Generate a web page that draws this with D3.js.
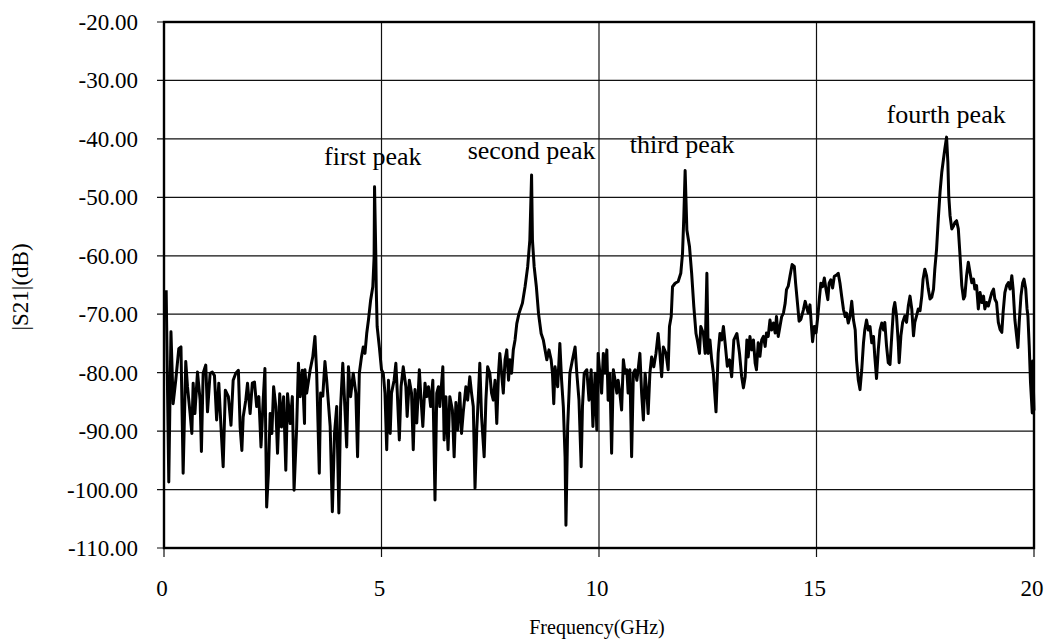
<!DOCTYPE html>
<html>
<head>
<meta charset="utf-8">
<script src="https://cdnjs.cloudflare.com/ajax/libs/d3/7.8.5/d3.min.js"></script>
<style>
	body { margin: 0; background: #fff; }
	text { font-family: "Liberation Serif", "Times New Roman", serif; fill: #000; }
</style>
</head>
<body>
<div id="graph"></div>
<script>
var xTicks = [0, 5, 10, 15, 20],
	yTicks = [-20, -30, -40, -50, -60, -70, -80, -90, -100, -110],
	xTitle = "Frequency(GHz)",
	yTitle = "|S21|(dB)";

var peakLabels = ["first peak", "second peak", "third peak", "fourth peak"],
	peakFreq = [4.80, 8.45, 11.91, 17.98],
	peakLabelDb = [-44.5, -43.4, -42.4, -37.3];

// [frequency GHz, |S21| dB]
var trace = [
	[0.05,-65.9],[0.11,-98.7],[0.16,-73],[0.21,-85.3],[0.27,-81.3],[0.34,-75.9],[0.39,-75.6],[0.44,-97.2],
	[0.50,-78.1],[0.54,-82.4],[0.60,-87],[0.64,-90.4],[0.67,-81.8],[0.71,-87],[0.77,-79.9],[0.83,-84.7],
	[0.86,-93.5],[0.90,-80.1],[0.96,-78.7],[1.00,-86.7],[1.06,-80.1],[1.11,-79.9],[1.16,-80.5],[1.21,-88.1],
	[1.26,-81.8],[1.31,-89.3],[1.36,-96.1],[1.41,-83],[1.48,-84.1],[1.54,-89],[1.59,-81.3],[1.65,-80.1],
	[1.71,-79.6],[1.75,-89.3],[1.79,-93.3],[1.82,-87.6],[1.88,-84.7],[1.92,-81.8],[1.98,-87],[2.03,-81.8],
	[2.08,-81.6],[2.13,-85.8],[2.18,-84.1],[2.23,-92.7],[2.28,-84.7],[2.32,-79.3],[2.36,-103],[2.40,-97.2],
	[2.44,-87],[2.48,-90.4],[2.52,-82.4],[2.57,-85.8],[2.61,-93.8],[2.66,-83.6],[2.70,-89.3],[2.75,-84.1],
	[2.80,-96.7],[2.84,-83.6],[2.90,-88.7],[2.95,-84.1],[2.99,-100.1],[3.05,-89.3],[3.09,-78.4],[3.13,-84.1],
	[3.18,-79.6],[3.23,-88.7],[3.24,-79.5],[3.28,-83.5],[3.36,-79.5],[3.42,-77.3],[3.47,-73.8],[3.51,-80.1],
	[3.55,-91.5],[3.57,-97.2],[3.60,-83.5],[3.65,-84],[3.70,-78.1],[3.74,-81.3],[3.82,-89.2],[3.87,-103.8],
	[3.92,-90.4],[3.97,-85.8],[4.02,-104],[4.06,-85.8],[4.11,-78.4],[4.15,-84.7],[4.20,-92.7],[4.24,-79],
	[4.29,-84.1],[4.35,-80.1],[4.41,-83.5],[4.45,-94.4],[4.49,-80.1],[4.54,-77.3],[4.58,-75.6],[4.62,-76.7],
	[4.66,-73.3],[4.70,-71],[4.75,-67.6],[4.80,-65.3],[4.83,-60.2],[4.84,-48.2],[4.87,-60.2],[4.88,-65.9],
	[4.90,-72.1],[4.95,-75.6],[5.00,-79.5],[5.04,-80.1],[5.08,-83.5],[5.12,-93.2],[5.16,-81.3],[5.20,-90.4],
	[5.23,-83.5],[5.29,-81.3],[5.33,-78.4],[5.36,-82.9],[5.41,-91.5],[5.45,-82.4],[5.50,-79],[5.56,-82.4],
	[5.59,-87.5],[5.64,-81.3],[5.69,-83.5],[5.73,-93.2],[5.77,-82.9],[5.81,-88.6],[5.87,-79.5],[5.90,-83.5],
	[5.95,-89.2],[6.00,-81.8],[6.04,-84.1],[6.08,-82.4],[6.13,-85.8],[6.18,-81.3],[6.23,-101.8],[6.27,-83.5],
	[6.31,-82.4],[6.34,-85.8],[6.41,-79],[6.44,-91.5],[6.48,-84.1],[6.53,-93.2],[6.57,-84.1],[6.63,-86.4],
	[6.67,-94.4],[6.71,-85.1],[6.75,-89.8],[6.80,-83.5],[6.84,-90.4],[6.88,-86.7],[6.94,-82.4],[6.98,-84.7],
	[7.03,-80.7],[7.07,-83.5],[7.11,-85.8],[7.15,-99.8],[7.19,-89.8],[7.23,-83.5],[7.26,-78.4],[7.30,-87.5],
	[7.36,-94.4],[7.40,-84.7],[7.44,-79],[7.49,-80.1],[7.53,-83.5],[7.57,-84.7],[7.61,-81.3],[7.65,-88.7],
	[7.69,-80.1],[7.72,-76.7],[7.76,-80.1],[7.80,-83.5],[7.84,-77.8],[7.88,-76.1],[7.92,-81.3],[7.95,-77.8],
	[7.99,-80.1],[8.03,-76.1],[8.07,-74.4],[8.11,-71.6],[8.16,-69.9],[8.24,-68.1],[8.30,-65.3],[8.36,-61.9],
	[8.41,-57.3],[8.45,-46.2],[8.47,-57.3],[8.51,-61.9],[8.56,-65.3],[8.61,-69.9],[8.67,-73.3],[8.72,-74.4],
	[8.76,-76.1],[8.80,-77.8],[8.85,-76.1],[8.90,-77.8],[8.93,-80.1],[8.96,-85.3],[8.99,-79],[9.05,-82.4],
	[9.10,-75],[9.14,-81.3],[9.18,-85.8],[9.22,-94.4],[9.24,-106.1],[9.28,-89.2],[9.33,-80.1],[9.39,-77.8],
	[9.45,-75.6],[9.49,-80.1],[9.54,-84.7],[9.59,-96.1],[9.62,-85.8],[9.66,-80.1],[9.72,-79.5],[9.77,-84.7],
	[9.82,-79.5],[9.86,-89.2],[9.91,-80.1],[9.95,-89.8],[9.98,-76.7],[10.02,-80.1],[10.06,-83.5],[10.10,-76.7],
	[10.14,-80.1],[10.18,-76.1],[10.21,-84.7],[10.25,-80.1],[10.29,-93.8],[10.33,-79.5],[10.37,-81.3],[10.41,-83.5],
	[10.44,-81.3],[10.48,-83.5],[10.52,-86.4],[10.56,-77.8],[10.60,-80.1],[10.64,-79.5],[10.67,-83.5],[10.71,-79.5],
	[10.75,-94.4],[10.79,-80.1],[10.83,-79.5],[10.87,-81.3],[10.90,-79.5],[10.94,-76.7],[10.98,-83.5],[11.02,-88.1],
	[11.06,-80.1],[11.10,-83.5],[11.13,-87],[11.17,-80.1],[11.21,-77.3],[11.26,-79],[11.31,-76.7],[11.36,-73.3],
	[11.40,-76.7],[11.44,-80.7],[11.48,-75.6],[11.54,-76.7],[11.59,-79.5],[11.62,-72.1],[11.66,-70.4],[11.69,-65.3],
	[11.75,-64.7],[11.82,-64.4],[11.88,-63],[11.92,-59.6],[11.95,-53.3],[11.98,-45.4],[12.02,-55.6],[12.08,-58.4],
	[12.13,-63],[12.18,-68.7],[12.23,-73.3],[12.26,-74.4],[12.31,-76.7],[12.34,-72.1],[12.40,-73.3],[12.44,-76.7],
	[12.48,-63],[12.51,-76.7],[12.55,-74.4],[12.59,-77.8],[12.63,-80.1],[12.66,-83.5],[12.69,-86.7],[12.74,-76.7],
	[12.78,-73.3],[12.82,-74.4],[12.86,-72.1],[12.90,-75],[12.95,-78.9],[13.00,-77.8],[13.05,-80.7],[13.10,-74.4],
	[13.17,-73.3],[13.23,-76.7],[13.28,-80.7],[13.32,-82.6],[13.36,-80.7],[13.40,-74.4],[13.43,-77.3],[13.47,-73.8],
	[13.51,-76.1],[13.55,-74.4],[13.59,-78.4],[13.62,-79.5],[13.66,-74.9],[13.70,-77.2],[13.74,-74.4],[13.78,-73.8],
	[13.82,-75.5],[13.85,-73.2],[13.89,-73.8],[13.93,-71],[13.97,-72.7],[14.01,-71.5],[14.05,-73.2],[14.08,-70.4],
	[14.12,-73.8],[14.16,-72.1],[14.20,-70.4],[14.24,-69.8],[14.28,-68.1],[14.31,-65.8],[14.35,-65.2],[14.39,-63.5],
	[14.44,-61.5],[14.49,-61.8],[14.52,-64.7],[14.57,-68.7],[14.60,-71.2],[14.64,-70.9],[14.70,-69.2],[14.74,-67.8],
	[14.77,-68.7],[14.81,-69.8],[14.85,-68.4],[14.89,-72.7],[14.91,-74.7],[14.95,-72.1],[14.99,-73.2],[15.03,-70.4],
	[15.07,-67],[15.10,-64.7],[15.14,-65.3],[15.18,-63.8],[15.22,-65.8],[15.26,-67.5],[15.29,-64.7],[15.33,-64.1],
	[15.37,-65.5],[15.41,-63.5],[15.46,-63.3],[15.50,-63],[15.54,-64.7],[15.58,-67],[15.62,-69.2],[15.66,-70.4],
	[15.69,-69.8],[15.73,-71.5],[15.77,-70.4],[15.81,-67.8],[15.85,-71],[15.89,-72.7],[15.92,-77.8],[15.96,-81.2],
	[16.00,-82.9],[16.04,-79.5],[16.08,-74.9],[16.11,-72.7],[16.15,-71],[16.19,-72.7],[16.23,-72.1],[16.27,-74.9],
	[16.31,-73.8],[16.34,-77.2],[16.38,-81],[16.42,-76.1],[16.46,-72.7],[16.50,-71.5],[16.54,-72.7],[16.57,-71.4],
	[16.61,-75.4],[16.65,-78.3],[16.69,-78.6],[16.73,-73.7],[16.77,-69.1],[16.80,-68],[16.84,-70.3],[16.88,-74.9],
	[16.90,-78.3],[16.94,-73.7],[16.98,-71.4],[17.03,-70.3],[17.07,-71.4],[17.11,-68.6],[17.15,-66.9],[17.19,-69.1],
	[17.23,-73.7],[17.26,-71.4],[17.30,-70.3],[17.34,-69.1],[17.38,-69.4],[17.42,-66.9],[17.45,-64],[17.49,-62.3],
	[17.53,-63.4],[17.57,-65.7],[17.61,-67.4],[17.65,-67.1],[17.69,-65.7],[17.72,-62.3],[17.76,-58.9],[17.80,-53.7],
	[17.84,-49.1],[17.88,-45.7],[17.92,-43.4],[17.95,-41.7],[17.99,-39.7],[18.02,-44],[18.04,-49.7],[18.07,-53.1],
	[18.11,-55.4],[18.15,-54.9],[18.18,-54.3],[18.22,-54],[18.26,-55.4],[18.30,-60],[18.34,-65.1],[18.38,-67.4],
	[18.41,-66.9],[18.45,-63.4],[18.49,-61.1],[18.53,-62.9],[18.57,-64.6],[18.61,-64],[18.64,-65.7],[18.68,-65.1],
	[18.72,-69.1],[18.76,-66.3],[18.80,-68],[18.84,-66.9],[18.87,-69.1],[18.91,-68],[18.95,-68.6],[18.99,-67.4],
	[19.03,-66.3],[19.07,-65.7],[19.10,-67.4],[19.14,-68],[19.18,-71.4],[19.22,-72.6],[19.26,-73.1],[19.29,-69.7],
	[19.33,-66.3],[19.37,-65.1],[19.41,-64.6],[19.45,-65.7],[19.49,-63.4],[19.52,-65.7],[19.56,-70.9],[19.60,-73.7],
	[19.63,-75.7],[19.66,-71.4],[19.70,-66.9],[19.74,-64.6],[19.77,-64],[19.81,-65.7],[19.84,-69.1],[19.86,-70.3],
	[19.89,-75.4],[19.92,-81.7],[19.96,-86.9],[19.97,-78],[20.0,-86.5]
];

var SVGwidth = 1050,
	SVGheight = 640;

var svg = d3.select('div#graph')
				.append('svg')
				.attr('width', SVGwidth)
				.attr('height', SVGheight);

var x = d3.scaleLinear()
				.domain([0, 20])
				.range([164, 1034]),
	y = d3.scaleLinear()
				.domain([-110, -20])
				.range([548, 22]);

var grid = svg.append("g").attr("class", "grid");

grid.selectAll("line.h")
	.data(yTicks).enter()
	.append("line")
	.attr("class", "h")
	.attr("x1", x(0) - 7)
	.attr("x2", x(20))
	.attr("y1", function(d){ return y(d); })
	.attr("y2", function(d){ return y(d); })
	.attr("stroke", "#111")
	.attr("stroke-width", 1.2);

grid.selectAll("line.v")
	.data(xTicks).enter()
	.append("line")
	.attr("class", "v")
	.attr("x1", function(d){ return x(d); })
	.attr("x2", function(d){ return x(d); })
	.attr("y1", y(-20))
	.attr("y2", y(-110) + 9)
	.attr("stroke", "#111")
	.attr("stroke-width", 1.2);

svg.append("rect")
	.attr("x", x(0))
	.attr("y", y(-20))
	.attr("width", x(20) - x(0))
	.attr("height", y(-110) - y(-20))
	.attr("fill", "none")
	.attr("stroke", "#000")
	.attr("stroke-width", 2.4);

svg.selectAll("text.ylab")
	.data(yTicks).enter()
	.append("text")
	.attr("class", "ylab")
	.attr("x", 138)
	.attr("y", function(d){ return y(d) + 8; })
	.attr("text-anchor", "end")
	.style("font-size", "23px")
	.text(function(d){ return d.toFixed(2); });

svg.selectAll("text.xlab")
	.data(xTicks).enter()
	.append("text")
	.attr("class", "xlab")
	.attr("x", function(d){ return x(d) - 2; })
	.attr("y", 596)
	.attr("text-anchor", "middle")
	.style("font-size", "23px")
	.text(function(d){ return d; });

svg.append("text")
	.attr("x", 597)
	.attr("y", 634)
	.attr("text-anchor", "middle")
	.style("font-size", "20px")
	.text(xTitle);

svg.append("text")
	.attr("transform", "translate(28, 287) rotate(-90)")
	.attr("text-anchor", "middle")
	.style("font-size", "23px")
	.text(yTitle);

var line = d3.line()
				.x(function(d){ return x(d[0]); })
				.y(function(d){ return y(d[1]); });

svg.append("path")
	.datum(trace)
	.attr("d", line)
	.attr("fill", "none")
	.attr("stroke", "#000")
	.attr("stroke-width", 3)
	.attr("stroke-linejoin", "round");

svg.selectAll("text.peak")
	.data(peakLabels).enter()
	.append("text")
	.attr("class", "peak")
	.attr("x", function(d, i){ return x(peakFreq[i]); })
	.attr("y", function(d, i){ return y(peakLabelDb[i]); })
	.attr("text-anchor", "middle")
	.style("font-size", "26px")
	.text(function(d){ return d; });
</script>
</body>
</html>
